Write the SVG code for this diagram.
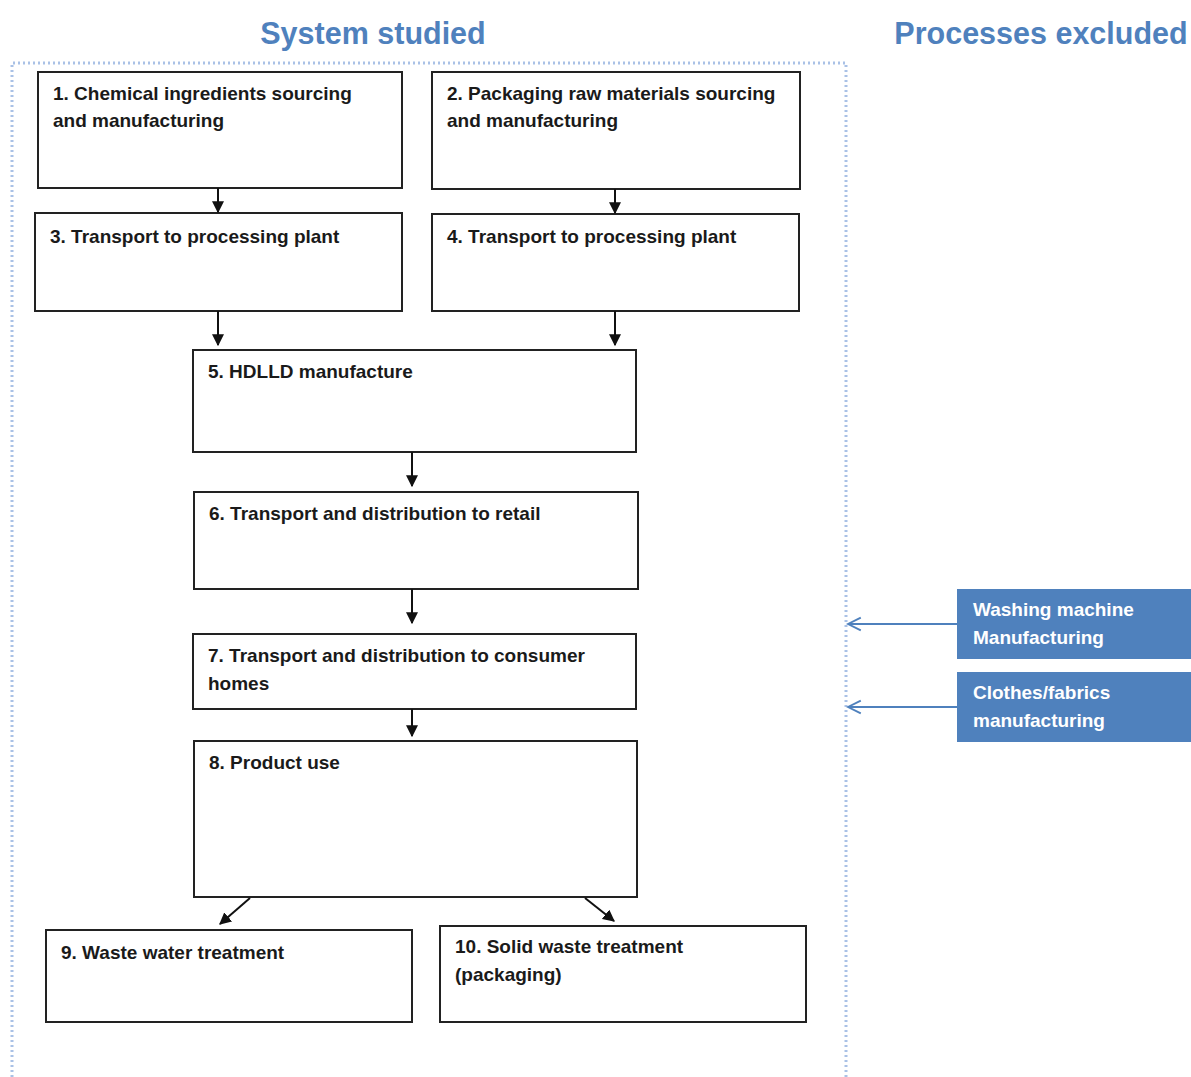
<svg xmlns="http://www.w3.org/2000/svg" width="1191" height="1077" viewBox="0 0 1191 1077">
<style>
.box{fill:#fff;stroke:#222;stroke-width:2}
.t{font-family:"Liberation Sans",Arial,sans-serif;font-weight:bold;font-size:19px;fill:#1a1a1a}
.w{font-family:"Liberation Sans",Arial,sans-serif;font-weight:bold;font-size:19px;fill:#fff}
.h{font-family:"Liberation Sans",Arial,sans-serif;font-weight:bold;font-size:30.5px;fill:#4f81bd}
.c{stroke:#111;stroke-width:2;fill:none;marker-end:url(#ah)}
.b{stroke:#4f81bd;stroke-width:2;fill:none;marker-end:url(#oh)}
.ex{fill:#4f81bd}
</style>
<defs>
<marker id="ah" viewBox="0 0 10 10" refX="9" refY="5" markerWidth="6" markerHeight="6" orient="auto" markerUnits="strokeWidth"><path d="M0,0 L10,5 L0,10 z" fill="#111"/></marker>
<marker id="oh" viewBox="0 0 10 10" refX="9" refY="5" markerWidth="8" markerHeight="8" orient="auto" markerUnits="strokeWidth"><path d="M1,1 L9,5 L1,9" fill="none" stroke="#4f81bd" stroke-width="1.2"/></marker>
</defs>
<text class="h" x="373" y="44" text-anchor="middle">System studied</text>
<text class="h" x="1041" y="44" text-anchor="middle">Processes excluded</text>
<path d="M12,1077 L12,63 L846,63 L846,1077" fill="none" stroke="#a9c1e6" stroke-width="3" stroke-dasharray="2,3"/>
<g id="n1"><rect class="box" x="38" y="72" width="364" height="116"/><text class="t" x="53" y="100">1. Chemical ingredients sourcing</text><text class="t" x="53" y="127">and manufacturing</text></g>
<g id="n2"><rect class="box" x="432" y="72" width="368" height="117"/><text class="t" x="447" y="100">2. Packaging raw materials sourcing</text><text class="t" x="447" y="127">and manufacturing</text></g>
<g id="n3"><rect class="box" x="35" y="213" width="367" height="98"/><text class="t" x="50" y="243">3. Transport to processing plant</text></g>
<g id="n4"><rect class="box" x="432" y="214" width="367" height="97"/><text class="t" x="447" y="243">4. Transport to processing plant</text></g>
<g id="n5"><rect class="box" x="193" y="350" width="443" height="102"/><text class="t" x="208" y="378">5. HDLLD manufacture</text></g>
<g id="n6"><rect class="box" x="194" y="492" width="444" height="97"/><text class="t" x="209" y="520">6. Transport and distribution to retail</text></g>
<g id="n7"><rect class="box" x="193" y="634" width="443" height="75"/><text class="t" x="208" y="662">7. Transport and distribution to consumer</text><text class="t" x="208" y="690">homes</text></g>
<g id="n8"><rect class="box" x="194" y="741" width="443" height="156"/><text class="t" x="209" y="769">8. Product use</text></g>
<g id="n9"><rect class="box" x="46" y="930" width="366" height="92"/><text class="t" x="61" y="959">9. Waste water treatment</text></g>
<g id="n10"><rect class="box" x="440" y="926" width="366" height="96"/><text class="t" x="455" y="953">10. Solid waste treatment</text><text class="t" x="455" y="981">(packaging)</text></g>
<g id="e1"><rect class="ex" x="957" y="589" width="234" height="70"/><text class="w" x="973" y="616">Washing machine</text><text class="w" x="973" y="644">Manufacturing</text></g>
<g id="e2"><rect class="ex" x="957" y="672" width="234" height="70"/><text class="w" x="973" y="699">Clothes/fabrics</text><text class="w" x="973" y="727">manufacturing</text></g>
<g id="connectors">
<line class="c" x1="218" y1="188" x2="218" y2="212"/>
<line class="c" x1="615" y1="189" x2="615" y2="213"/>
<line class="c" x1="218" y1="311" x2="218" y2="345"/>
<line class="c" x1="615" y1="311" x2="615" y2="345"/>
<line class="c" x1="412" y1="452" x2="412" y2="486"/>
<line class="c" x1="412" y1="589" x2="412" y2="623"/>
<line class="c" x1="412" y1="709" x2="412" y2="736"/>
<line class="c" x1="250" y1="898" x2="220" y2="924"/>
<line class="c" x1="585" y1="898" x2="614" y2="921"/>
<line class="b" x1="957" y1="624" x2="848" y2="624"/>
<line class="b" x1="957" y1="707" x2="848" y2="707"/>
</g>
</svg>
